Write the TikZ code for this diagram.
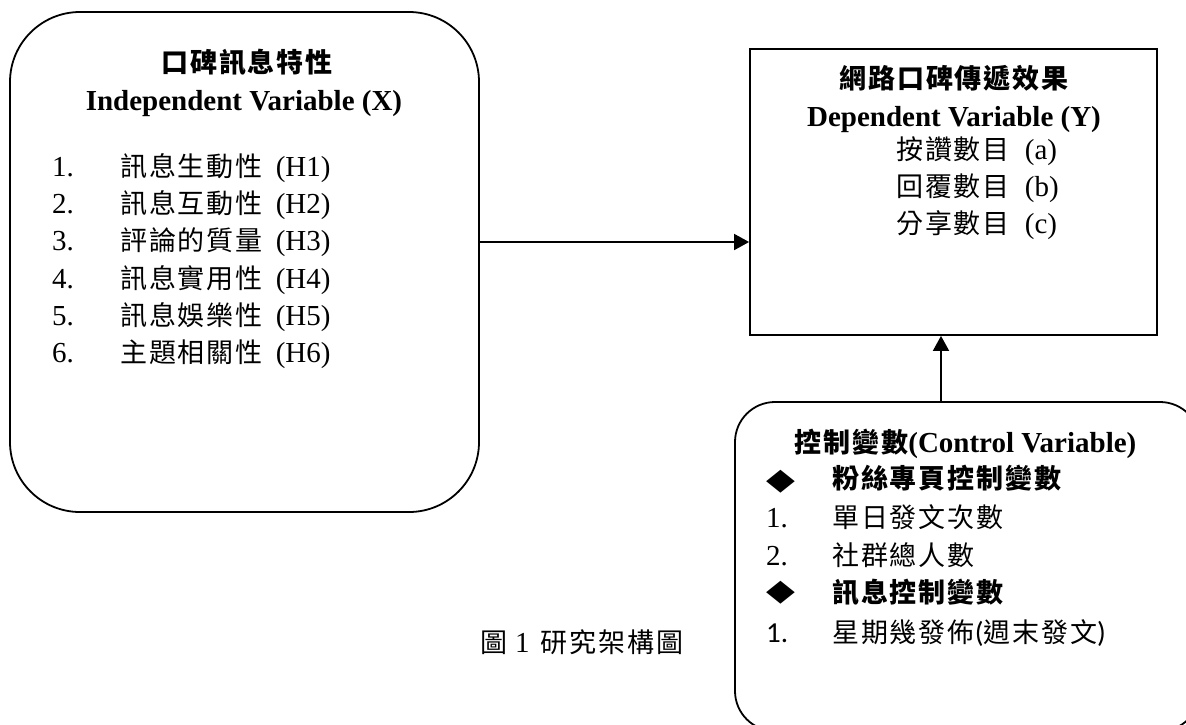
\documentclass[tikz,border=0pt]{standalone}
\usepackage{fontspec}
\setmainfont{Liberation Serif}
\newfontfamily\cjkfont[LetterSpace=7]{Noto Sans CJK TC}
\newfontfamily\calfont{Carlito}
\newfontfamily\symbfont{DejaVu Sans}
\usetikzlibrary{arrows.meta}
\newcommand{\zhtxt}[1]{{\cjkfont\fontsize{27}{33}\selectfont #1}}
\begin{document}
\begin{tikzpicture}[x=1pt,y=-1pt,
  box/.style={draw=black,line width=1.8pt,inner sep=0pt},
  txt/.style={anchor=base west,inner sep=0pt,font=\fontsize{29}{35}\selectfont},
  ctxt/.style={anchor=base,inner sep=0pt,font=\fontsize{29}{35}\selectfont\bfseries},
  bullet/.style={inner sep=0pt,xscale=1.25,font=\symbfont\fontsize{30}{30}\selectfont},
  arr/.style={line width=1.8pt,-{Triangle[length=15pt,width=16pt]}}]
\useasboundingbox (0,0) rectangle (1186,724);
\clip (0,0) rectangle (1186,724);
% boxes
\node[box,rounded corners=70pt,minimum width=469pt,minimum height=500pt] (xbox) at (244.5,262) {};
\node[box,minimum width=407pt,minimum height=286pt] (ybox) at (953.5,192) {};
\node[box,rounded corners=40pt,minimum width=465pt,minimum height=329pt] (cbox) at (967.5,566.5) {};
% left box text
\node[ctxt] (xt1) at (247,72) {\zhtxt{\bfseries 口碑訊息特性}};
\node[ctxt] (xt2) at (244,110) {Independent Variable (X)};
\node[txt] (n1) at (52,176) {1.};
\node[txt] (n2) at (52,213) {2.};
\node[txt] (n3) at (52,250) {3.};
\node[txt] (n4) at (52,288) {4.};
\node[txt] (n5) at (52,325) {5.};
\node[txt] (n6) at (52,362) {6.};
\node[txt] (h1) at (120,176) {\zhtxt{訊息生動性}\hspace{13pt}(H1)};
\node[txt] (h2) at (120,213) {\zhtxt{訊息互動性}\hspace{13pt}(H2)};
\node[txt] (h3) at (120,250) {\zhtxt{評論的質量}\hspace{13pt}(H3)};
\node[txt] (h4) at (120,288) {\zhtxt{訊息實用性}\hspace{13pt}(H4)};
\node[txt] (h5) at (120,325) {\zhtxt{訊息娛樂性}\hspace{13pt}(H5)};
\node[txt] (h6) at (120,362) {\zhtxt{主題相關性}\hspace{13pt}(H6)};
% right box text
\node[ctxt] (yt1) at (954,88) {\zhtxt{\bfseries 網路口碑傳遞效果}};
\node[ctxt] (yt2) at (954,126) {Dependent Variable (Y)};
\node[txt] (ya) at (896,159) {\zhtxt{按讚數目}\hspace{15pt}(a)};
\node[txt] (yb) at (896,196) {\zhtxt{回覆數目}\hspace{15pt}(b)};
\node[txt] (yc) at (896,233) {\zhtxt{分享數目}\hspace{15pt}(c)};
% control box text
\node[ctxt] (ct) at (965.5,452) {\zhtxt{\bfseries 控制變數}(Control Variable)};
\node[bullet] (d1) at (780.5,482) {◆};
\node[txt] (c1) at (832,488) {\zhtxt{\bfseries 粉絲專頁控制變數}};
\node[txt] (cn1) at (766,527) {1.};
\node[txt] (c2) at (832,527) {\zhtxt{單日發文次數}};
\node[txt] (cn2) at (766,565) {2.};
\node[txt] (c3) at (832,565) {\zhtxt{社群總人數}};
\node[bullet] (d2) at (780.5,593) {◆};
\node[txt] (c4) at (832,602) {\zhtxt{\bfseries 訊息控制變數}};
\node[txt,font=\calfont\fontsize{29}{35}\selectfont] (cn3) at (766,642) {1.};
\node[txt,font=\calfont\fontsize{29}{35}\selectfont] (c5) at (832,642) {\zhtxt{星期幾發佈}(\zhtxt{週末發文})};
% caption
\node[txt] (cap) at (480,652) {\zhtxt{圖}\hspace{8pt}1\hspace{11pt}\zhtxt{研究架構圖}};
% connectors
\coordinate (hy) at (0,242);
\coordinate (vx) at (941,0);
\draw[arr] (xbox.east |- hy) -- (ybox.west |- hy);
\draw[arr] (cbox.north -| vx) -- (ybox.south -| vx);
\end{tikzpicture}
\end{document}
